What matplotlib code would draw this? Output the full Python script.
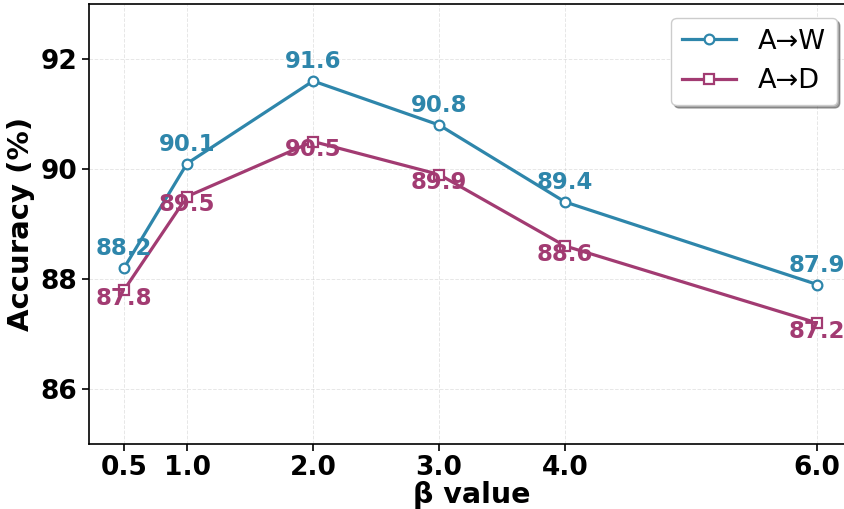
import matplotlib
matplotlib.use("Agg")
import matplotlib.pyplot as plt

plt.rcParams['font.family'] = ['DejaVu Sans']

beta = [0.5, 1.0, 2.0, 3.0, 4.0, 6.0]
acc_aw = [88.2, 90.1, 91.6, 90.8, 89.4, 87.9]
acc_ad = [87.8, 89.5, 90.5, 89.9, 88.6, 87.2]
xtick_labels = ["0.5", "1.0", "2.0", "3.0", "4.0", "6.0"]
yticks = [86, 88, 90, 92]

c_aw = "#2E86AB"
c_ad = "#A23B72"

W, H = 845, 509
fig = plt.figure(figsize=(W / 100, H / 100), dpi=100)
ax = fig.add_axes([89 / W, (H - 444) / H, (855 - 89) / W, (444 - 4) / H])

ax.plot(beta, acc_aw, color=c_aw, lw=2.3, marker="o", ms=7,
        mfc="white", mew=1.6, label="A→W", zorder=3)
ax.plot(beta, acc_ad, color=c_ad, lw=2.3, marker="s", ms=7,
        mfc="white", mew=1.6, label="A→D", zorder=3)

for x, y in zip(beta, acc_aw):
    ax.annotate(f"{y:.1f}", (x, y), xytext=(0, 14), textcoords="offset points",
                ha="center", va="center", fontsize=16.5, fontweight="bold",
                color=c_aw, zorder=5)
for x, y in zip(beta, acc_ad):
    ax.annotate(f"{y:.1f}", (x, y), xytext=(0, -6), textcoords="offset points",
                ha="center", va="center", fontsize=16.5, fontweight="bold",
                color=c_ad, zorder=5)

ax.set_xlim(0.222, 6.30)
ax.set_ylim(85, 93)
ax.set_xticks(beta)
ax.set_xticklabels(xtick_labels)
ax.set_yticks(yticks)
ax.tick_params(labelsize=19, length=5, width=1.2)
ax.tick_params(axis="x", pad=3)
for lbl in ax.get_xticklabels() + ax.get_yticklabels():
    lbl.set_fontweight("bold")

ax.set_xlabel("β value", fontsize=20.5, fontweight="bold", labelpad=0)
ax.set_ylabel("Accuracy (%)", fontsize=21, fontweight="bold")
ax.grid(True, ls="--", lw=0.7, alpha=0.3)
for s in ax.spines.values():
    s.set_linewidth(1.2)

ax.legend(loc="upper right", bbox_to_anchor=(837 / W, 1 - 18 / H),
          bbox_transform=fig.transFigure, borderaxespad=0, fontsize=19.5,
          frameon=True, fancybox=True, shadow=True)

fig.savefig("out.png", dpi=100)
